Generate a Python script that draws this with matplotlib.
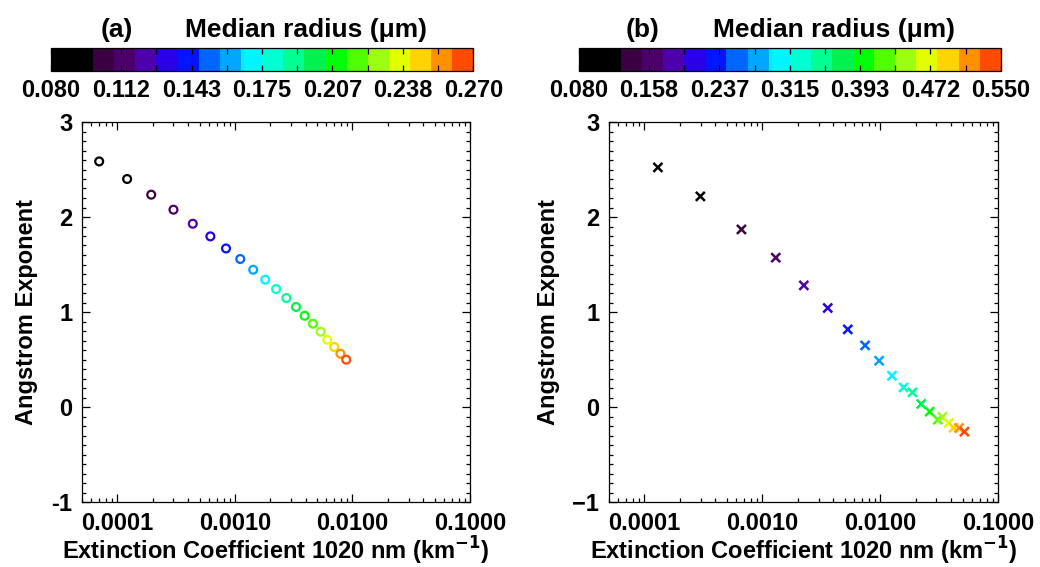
import numpy as np
import matplotlib
matplotlib.use("Agg")
import matplotlib.pyplot as plt
from matplotlib.colors import ListedColormap, Normalize
from matplotlib.cm import ScalarMappable
from matplotlib.ticker import FixedLocator, LogLocator, MultipleLocator, NullFormatter

plt.rcParams['font.family'] = ['Liberation Sans', 'DejaVu Sans']
plt.rcParams['font.weight'] = 'bold'

# ---------------- data ----------------
radius_a = [0.08, 0.09, 0.10, 0.11, 0.12, 0.13, 0.14, 0.15, 0.16, 0.17,
            0.18, 0.19, 0.20, 0.21, 0.22, 0.23, 0.24, 0.25, 0.26, 0.27]
ext_a = [7.0e-5, 1.21e-4, 1.94e-4, 3.0e-4, 4.38e-4, 6.18e-4, 8.4e-4, 1.11e-3, 1.43e-3, 1.81e-3,
         2.24e-3, 2.74e-3, 3.31e-3, 3.92e-3, 4.61e-3, 5.36e-3, 6.1e-3, 7.0e-3, 7.9e-3, 8.85e-3]
ang_a = [2.585, 2.40, 2.235, 2.077, 1.929, 1.796, 1.669, 1.558, 1.445, 1.34,
         1.242, 1.147, 1.053, 0.961, 0.877, 0.793, 0.708, 0.632, 0.561, 0.498]

radius_b = [0.080, 0.105, 0.129, 0.154, 0.179, 0.204, 0.228, 0.253, 0.278, 0.303,
            0.327, 0.352, 0.377, 0.402, 0.426, 0.451, 0.476, 0.501, 0.525, 0.550]
ext_b = [1.30e-4, 2.98e-4, 6.65e-4, 1.30e-3, 2.25e-3, 3.59e-3, 5.31e-3, 7.45e-3, 9.8e-3, 1.26e-2,
         1.58e-2, 1.88e-2, 2.23e-2, 2.63e-2, 3.08e-2, 3.37e-2, 3.81e-2, 4.2e-2, 4.67e-2, 5.19e-2]
ang_b = [2.522, 2.217, 1.869, 1.572, 1.28, 1.042, 0.817, 0.648, 0.487, 0.329,
         0.206, 0.154, 0.032, -0.049, -0.134, -0.105, -0.168, -0.218, -0.221, -0.26]

cbar_labels_a = ["0.080", "0.112", "0.143", "0.175", "0.207", "0.238", "0.270"]
cbar_labels_b = ["0.080", "0.158", "0.237", "0.315", "0.393", "0.472", "0.550"]
xtick_vals = [1e-4, 1e-3, 1e-2, 1e-1]
xtick_labels = ["0.0001", "0.0010", "0.0100", "0.1000"]
ytick_vals = [-1, 0, 1, 2, 3]
ytick_labels_a = ["-1", "0", "1", "2", "3"]
ytick_labels_b = ["\u22121", "0", "1", "2", "3"]

palette = ["#000000", "#000000", "#3a0042", "#4c0068", "#4e00ac", "#2a00e6",
           "#0414ff", "#0066ff", "#00a6ff", "#00f4ff", "#00ffd2", "#00ff92",
           "#00f050", "#00ff08", "#50ff00", "#9cff10", "#e2ff00", "#ffd400",
           "#ff9000", "#ff4a00"]
cmap = ListedColormap(palette)

W, H = 1040, 567
fig = plt.figure(figsize=(W / 100, H / 100), dpi=100)

def fx(px):
    return px / W

def fy(py):
    return 1 - py / H

FS = 17

def make_panel(ax_left, ax_right, cb_left, cb_right, x, y, r, vmin, vmax, marker,
               cbar_labels, ylabels, tag, tag_x, title_x, ylab_x):
    ax = fig.add_axes([fx(ax_left), fy(502), fx(ax_right - ax_left), (502 - 122) / H])
    norm = Normalize(vmin=vmin, vmax=vmax)
    if marker == 'o':
        cols = cmap(norm(np.array(r)))
        ax.scatter(x, y, s=32, facecolors='none', edgecolors=cols, linewidths=1.6, marker='o', zorder=3)
    else:
        ax.scatter(x, y, s=42, c=r, cmap=cmap, norm=norm, linewidths=1.8, marker='x', zorder=3)
    ax.set_xscale('log')
    ax.set_xlim(5e-5, 0.1)
    ax.set_ylim(-1, 3)
    ax.xaxis.set_major_locator(FixedLocator(xtick_vals))
    ax.set_xticklabels(xtick_labels)
    ax.xaxis.set_minor_locator(LogLocator(base=10, subs=np.arange(2, 10) * 1.0, numticks=20))
    ax.xaxis.set_minor_formatter(NullFormatter())
    ax.yaxis.set_major_locator(FixedLocator(ytick_vals))
    ax.set_yticklabels(ylabels)
    ax.yaxis.set_minor_locator(MultipleLocator(0.1))
    ax.tick_params(which='both', direction='in', top=True, right=True, width=0.9, colors='black',
                   labelsize=FS)
    ax.tick_params(which='major', length=6, pad=7)
    ax.tick_params(which='minor', length=3)
    for s in ax.spines.values():
        s.set_linewidth(0.9)
    for lab in ax.get_xticklabels() + ax.get_yticklabels():
        lab.set_fontweight('bold')
    ax.set_xlabel("Extinction Coefficient 1020 nm (km$^{\\mathbf{-1}}$)", fontsize=FS,
                  fontweight='bold', labelpad=0)
    ax.yaxis.set_label_coords((ylab_x - ax_left) / (ax_right - ax_left), 0.5)
    ax.set_ylabel("Angstrom Exponent", fontsize=FS, fontweight='bold', va='center')

    cax = fig.add_axes([fx(cb_left), fy(71), fx(cb_right - cb_left), 23 / H])
    sm = ScalarMappable(norm=norm, cmap=cmap)
    cb = fig.colorbar(sm, cax=cax, orientation='horizontal')
    cb.outline.set_linewidth(0.9)
    ticks = np.linspace(vmin, vmax, 7)
    cb.set_ticks(ticks)
    cb.set_ticklabels(cbar_labels)
    cax.xaxis.set_minor_locator(FixedLocator(np.linspace(vmin, vmax, 13)))
    cax.tick_params(which='both', direction='in', top=True, bottom=True, length=4, width=0.9)
    cax.tick_params(which='major', labelsize=FS, pad=6)
    for lab in cax.get_xticklabels():
        lab.set_fontweight('bold')

    fig.text(fx(tag_x), fy(30), tag, fontsize=FS + 2, fontweight='bold', ha='center', va='center')
    fig.text(fx(title_x), fy(30), "Median radius (\u03bcm)", fontsize=FS + 2, fontweight='bold',
             ha='left', va='center')
    return ax

make_panel(82, 470, 50.7, 473.3, ext_a, ang_a, radius_a, 0.08, 0.27, 'o',
           cbar_labels_a, ytick_labels_a, "(a)", 117, 185, 27)
make_panel(609, 998, 578.7, 1000.7, ext_b, ang_b, radius_b, 0.08, 0.55, 'x',
           cbar_labels_b, ytick_labels_b, "(b)", 643, 713, 549)

fig.savefig("out.png", dpi=100)
